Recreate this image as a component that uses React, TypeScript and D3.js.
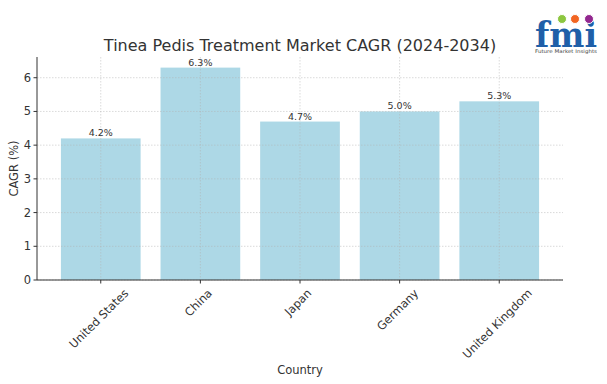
import * as d3 from 'd3'

const countries = ['United States', 'China', 'Japan', 'Germany', 'United Kingdom']
const cagr = [4.2, 6.3, 4.7, 5.0, 5.3]
const yTicks = [0, 1, 2, 3, 4, 5, 6]

const width = 607
const height = 384
const margin = { top: 57, right: 44, bottom: 104, left: 37 }

const font = 'DejaVu Sans, sans-serif'
const tickSize = 11.5

// measure label width so rotated labels can be centred under ticks like matplotlib
const ctx = document.createElement('canvas').getContext('2d')!
ctx.font = `${tickSize}px DejaVu Sans`
const textW = (s: string) => ctx.measureText(s).width

export default function App() {
  const innerBottom = height - margin.bottom
  const innerRight = width - margin.right

  const xScale = d3
    .scaleBand<string>()
    .domain(countries)
    .range([margin.left, innerRight])
    .paddingInner(0.2)
    .paddingOuter(0.24)

  const yScale = d3
    .scaleLinear()
    .domain([0, d3.max(cagr)! * 1.05])
    .range([innerBottom, margin.top])

  const gridStyle = {
    stroke: '#b0b0b0',
    strokeWidth: 0.6,
    strokeDasharray: '1.5,1.5'
  }

  return (
    <svg
      width={width}
      height={height}
      style={{ position: 'absolute', left: 0, top: 0, background: '#fff' }}
      fontFamily={font}
    >
      {/* bars */}
      {countries.map((c, i) => (
        <rect
          key={c}
          x={xScale(c)}
          y={yScale(cagr[i])}
          width={xScale.bandwidth()}
          height={innerBottom - yScale(cagr[i])}
          fill="#add8e6"
        />
      ))}

      {/* grid, drawn above the bars */}
      {yTicks.map(t => (
        <line key={'gy' + t} x1={margin.left} x2={innerRight} y1={yScale(t)} y2={yScale(t)} {...gridStyle} strokeOpacity={0.8} />
      ))}
      {countries.map(c => {
        const cx = xScale(c)! + xScale.bandwidth() / 2
        return <line key={'gx' + c} x1={cx} x2={cx} y1={margin.top} y2={innerBottom} {...gridStyle} strokeOpacity={0.8} />
      })}

      {/* value labels */}
      {countries.map((c, i) => (
        <text
          key={'v' + c}
          x={xScale(c)! + xScale.bandwidth() / 2}
          y={yScale(cagr[i]) - 2}
          textAnchor="middle"
          fontSize={9.5}
          fill="#333"
        >
          {cagr[i].toFixed(1)}%
        </text>
      ))}

      {/* axes */}
      <line x1={margin.left} x2={margin.left} y1={margin.top} y2={innerBottom} stroke="#333" strokeWidth={1} />
      <line x1={margin.left} x2={innerRight} y1={innerBottom} y2={innerBottom} stroke="#333" strokeWidth={1} />

      {yTicks.map(t => (
        <g key={'yt' + t}>
          <line x1={margin.left - 3.5} x2={margin.left} y1={yScale(t)} y2={yScale(t)} stroke="#333" />
          <text x={margin.left - 6} y={yScale(t)} dy="0.35em" textAnchor="end" fontSize={tickSize} fill="#333">
            {t}
          </text>
        </g>
      ))}

      {countries.map(c => {
        const cx = xScale(c)! + xScale.bandwidth() / 2
        const half = ((textW(c) + tickSize) * Math.SQRT1_2) / 2
        return (
          <g key={'xt' + c}>
            <line x1={cx} x2={cx} y1={innerBottom} y2={innerBottom + 3.5} stroke="#333" />
            <text
              transform={`translate(${cx - 2},${innerBottom + 7 + half}) rotate(-45)`}
              textAnchor="middle"
              dy="0.35em"
              fontSize={tickSize}
              fill="#333"
            >
              {c}
            </text>
          </g>
        )
      })}

      {/* labels */}
      <text x={(margin.left + innerRight) / 2} y={51} textAnchor="middle" fontSize={16} fill="#333">
        Tinea Pedis Treatment Market CAGR (2024-2034)
      </text>
      <text x={(margin.left + innerRight) / 2} y={374} textAnchor="middle" fontSize={11.5} fill="#333">
        Country
      </text>
      <text
        transform={`translate(18,${(margin.top + innerBottom) / 2}) rotate(-90)`}
        textAnchor="middle"
        fontSize={11.5}
        fill="#333"
      >
        CAGR (%)
      </text>

      {/* logo */}
      <g>
        <text
          x={535}
          y={47}
          fontFamily="DejaVu Serif, serif"
          fontWeight="bold"
          fontSize={36}
          fill="#1f5fa8"
          textLength={62}
          lengthAdjust="spacingAndGlyphs"
        >
          fmi
        </text>
        <circle cx={562} cy={19} r={4.5} fill="#8cc63f" stroke="#fff" strokeWidth={1} />
        <circle cx={575} cy={19} r={4.5} fill="#f26522" stroke="#fff" strokeWidth={1} />
        <circle cx={589} cy={19} r={4.5} fill="#92278f" stroke="#fff" strokeWidth={1} />
        <text x={535} y={52.5} fontSize={5} fill="#444" textLength={62} lengthAdjust="spacingAndGlyphs">
          Future Market Insights
        </text>
      </g>
    </svg>
  )
}
